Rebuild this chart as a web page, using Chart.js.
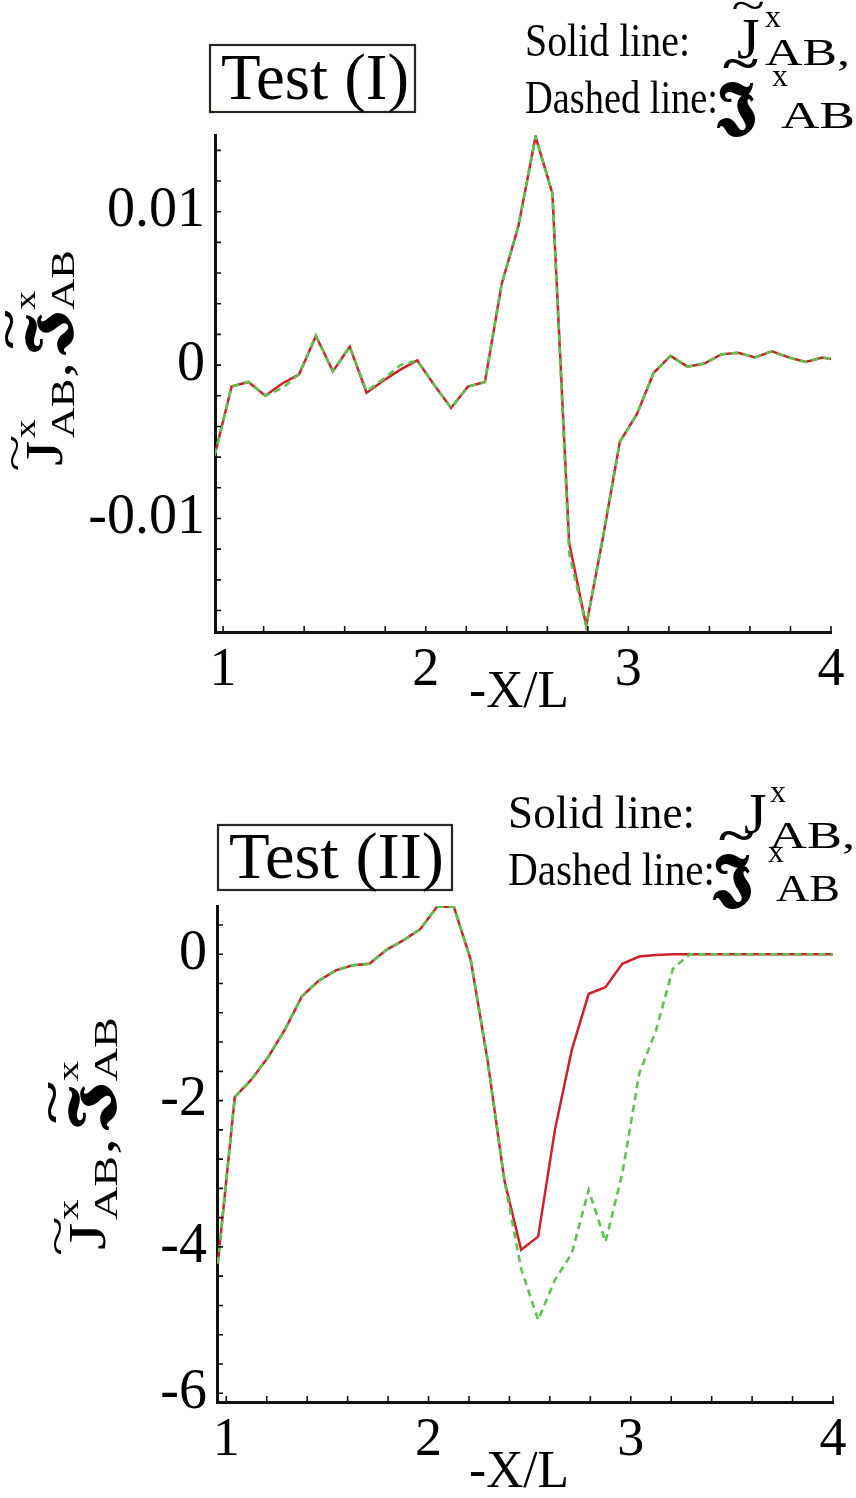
<!DOCTYPE html>
<html lang="en">
<head>
<meta charset="UTF-8">
<title>Test (I) / Test (II)</title>
<script src="https://cdn.jsdelivr.net/npm/chart.js@4.4.1/dist/chart.umd.min.js"></script>
<style>
  body { margin: 0; background: #fff; width: 856px; height: 1498px; overflow: hidden; }
  .panel { position: absolute; left: 0; width: 856px; height: 749px; }
</style>
</head>
<body>
<div class="panel" style="top:0"><canvas id="chartTop"></canvas></div>
<div class="panel" style="top:749px"><canvas id="chartBottom"></canvas></div>

<script>
// ---- data ----
const xPos = [0.958, 1.042, 1.125, 1.208, 1.292, 1.375, 1.458, 1.542, 1.625, 1.708,
              1.792, 1.875, 1.958, 2.042, 2.125, 2.208, 2.292, 2.375, 2.458, 2.542,
              2.625, 2.708, 2.792, 2.875, 2.958, 3.042, 3.125, 3.208, 3.292, 3.375,
              3.458, 3.542, 3.625, 3.708, 3.792, 3.875, 3.958, 4.042];

// Test (I)
const solidI  = [-0.0059, -0.0014, -0.0011, -0.0020, -0.0012, -0.0006, 0.0019, -0.0004, 0.0012, -0.0018,
                 -0.0010, -0.0003, 0.0003, -0.0013, -0.0028, -0.0014, -0.0011, 0.0053, 0.0091, 0.0149,
                  0.0112, -0.0116, -0.0170, -0.0112, -0.0050, -0.0032, -0.0005, 0.0006, -0.0001, 0.0001,
                  0.0007, 0.0008, 0.0005, 0.0009, 0.0005, 0.0002, 0.0005, 0.0003];
const dashedI = [-0.0059, -0.0014, -0.0011, -0.0020, -0.0015, -0.0006, 0.0019, -0.0004, 0.0012, -0.0017,
                 -0.0009, 0.0000, 0.0003, -0.0013, -0.0028, -0.0014, -0.0011, 0.0053, 0.0091, 0.0149,
                  0.0112, -0.0123, -0.0170, -0.0112, -0.0050, -0.0032, -0.0005, 0.0006, -0.0001, 0.0001,
                  0.0007, 0.0008, 0.0005, 0.0009, 0.0005, 0.0002, 0.0005, 0.0003];

// Test (II)
const solidII  = [-4.23, -1.95, -1.71, -1.40, -1.02, -0.57, -0.36, -0.22, -0.15, -0.13,
                   0.06, 0.19, 0.34, 0.65, 0.65, -0.07, -1.45, -3.09, -4.04, -3.86,
                  -2.40, -1.31, -0.54, -0.45, -0.13, -0.03, -0.01, 0, 0, 0,
                   0, 0, 0, 0, 0, 0, 0, 0];
const dashedII = [-4.23, -1.95, -1.71, -1.40, -1.02, -0.57, -0.36, -0.22, -0.15, -0.13,
                   0.06, 0.19, 0.34, 0.65, 0.65, -0.07, -1.45, -3.09, -4.30, -5.00,
                  -4.45, -4.09, -3.22, -3.93, -3.00, -1.63, -1.04, -0.20, 0, 0,
                   0, 0, 0, 0, 0, 0, 0, 0];

// ticks
const xTickLabels = [1, 2, 3, 4];
const xMinorTicks = [1, 1.2, 1.4, 1.6, 1.8, 2, 2.2, 2.4, 2.6, 2.8, 3, 3.2, 3.4, 3.6, 3.8, 4];
const yTickLabelsI = [-0.01, 0, 0.01];
const yMinorTicksI = [-0.016, -0.014, -0.012, -0.010, -0.008, -0.006, -0.004, -0.002, 0,
                      0.002, 0.004, 0.006, 0.008, 0.010, 0.012, 0.014];
const yTickLabelsII = [-6, -4, -2, 0];
const yMinorTicksII = [-6, -5.6, -5.2, -4.8, -4.4, -4, -3.6, -3.2, -2.8, -2.4, -2, -1.6, -1.2,
                       -0.8, -0.4, 0, 0.4];

const SERIF = '"Liberation Serif", "DejaVu Serif", serif';
const FRAK = '"DejaVu Serif", "DejaVu Sans", "Noto Sans", serif';
const RED = '#cc2229';
const GREEN = '#5ec24e';

function pts(xs, ys) {
    return ys.map((v, i) => ({ x: xs[i], y: v }));
}

// draw one text item: {t, x, y, size, bold, frak, tilde, w}
function drawItem(ctx, it) {
    ctx.save();
    ctx.font = (it.bold ? 'bold ' : '') + it.size + 'px ' + (it.frak ? FRAK : SERIF);
    ctx.fillStyle = '#000';
    ctx.textBaseline = 'alphabetic';
    const mw = ctx.measureText(it.t).width;
    ctx.translate(it.x, it.y);
    if (it.w) ctx.scale(it.w / mw, 1);
    ctx.fillText(it.t, 0, 0);
    if (it.tilde) {
        ctx.font = (it.bold ? 'bold ' : '') + Math.round(it.size * 0.75) + 'px ' + SERIF;
        const tw = ctx.measureText('~').width;
        ctx.save();
        ctx.translate(mw * (it.bold ? 0.6 : 0.5), -it.size * (it.bold ? 0.74 : 0.66));
        ctx.scale(1.4, 1);
        ctx.fillText('~', -tw / 2, 0);
        ctx.restore();
    }
    ctx.restore();
}

const decor = {
    id: 'decor',
    afterDraw(chart, args, o) {
        const ctx = chart.ctx, a = chart.chartArea;
        const xs = chart.scales.x, ys = chart.scales.y;
        ctx.save();
        // inward tick marks
        ctx.strokeStyle = '#111';
        ctx.lineWidth = 1.6;
        ctx.beginPath();
        o.xMinor.forEach(v => {
            const px = xs.getPixelForValue(v);
            ctx.moveTo(px, a.bottom); ctx.lineTo(px, a.bottom - 6);
        });
        o.yMinor.forEach(v => {
            const py = ys.getPixelForValue(v);
            ctx.moveTo(a.left, py); ctx.lineTo(a.left + 6, py);
        });
        ctx.stroke();

        // framed title
        ctx.strokeStyle = '#2b2622';
        ctx.lineWidth = 2.2;
        ctx.strokeRect(o.box[0], o.box[1], o.box[2], o.box[3]);
        o.texts.forEach(it => drawItem(ctx, it));

        // rotated axis title
        const r = o.yTitle;
        ctx.save();
        ctx.translate(r.x, r.y);
        ctx.rotate(-Math.PI / 2);
        ctx.scale(r.stretch, 1);
        r.parts.forEach(it => drawItem(ctx, it));
        ctx.restore();

        // x title
        drawItem(ctx, o.xTitle);
        ctx.restore();
    }
};

function yTitleParts() {
    return [
        { t: 'J', x: 0, y: 0, size: 52, tilde: true },
        { t: 'x', x: 22, y: -27, size: 30 },
        { t: 'AB', x: 22, y: 12, size: 34 },
        { t: ',', x: 70, y: 8, size: 50 },
        { t: '\u{1D575}', x: 88, y: 2, size: 56, bold: true, frak: true, tilde: true },
        { t: 'x', x: 124, y: -27, size: 30 },
        { t: 'AB', x: 124, y: 12, size: 34 }
    ];
}

function makeChart(id, cfg) {
    return new Chart(document.getElementById(id), {
        type: 'line',
        data: {
            datasets: [
                { data: pts(xPos, cfg.dashed), borderColor: GREEN, borderWidth: 2.6,
                  borderDash: [7, 5], pointRadius: 0, tension: 0, order: 0 },
                { data: pts(xPos, cfg.solid), borderColor: RED, borderWidth: 2.5,
                  pointRadius: 0, tension: 0, order: 1 }
            ]
        },
        options: {
            responsive: true,
            maintainAspectRatio: false,
            animation: false,
            layout: { padding: { top: cfg.top, right: cfg.right, left: 0, bottom: 0 } },
            plugins: {
                legend: { display: false },
                tooltip: { enabled: false },
                decor: cfg.decor
            },
            scales: {
                x: {
                    type: 'linear',
                    min: cfg.xmin, max: 4,
                    border: { display: true, color: '#111', width: 3 },
                    grid: { display: false, drawTicks: false },
                    ticks: { color: '#000', padding: 6, maxRotation: 0, autoSkip: false,
                             font: { family: SERIF, size: 54 } },
                    afterBuildTicks: s => { s.ticks = xTickLabels.map(v => ({ value: v })); },
                    afterFit: s => { s.height = cfg.xh; }
                },
                y: {
                    min: cfg.ymin, max: cfg.ymax,
                    border: { display: true, color: '#111', width: 3 },
                    grid: { display: false, drawTicks: false },
                    ticks: { color: '#000', padding: 10, autoSkip: false,
                             font: { family: SERIF, size: 56 },
                             callback: v => String(v) },
                    afterBuildTicks: s => { s.ticks = cfg.yLabels.map(v => ({ value: v })); },
                    afterFit: s => { s.width = cfg.yw; }
                }
            }
        },
        plugins: [decor]
    });
}

makeChart('chartTop', {
    solid: solidI, dashed: dashedI,
    xmin: 0.96, ymin: -0.0174, ymax: 0.0150,
    top: 135, right: 25, xh: 117, yw: 215,
    yLabels: yTickLabelsI,
    decor: {
        xMinor: xMinorTicks, yMinor: yMinorTicksI,
        box: [210, 45, 205, 67],
        texts: [
            { t: 'Test (I)', x: 221, y: 99, size: 66, w: 188 },
            { t: 'Solid line:', x: 525, y: 56, size: 46, w: 165 },
            { t: 'J', x: 737, y: 58, size: 58, tilde: true },
            { t: 'x', x: 765, y: 27, size: 32 },
            { t: 'AB,', x: 765, y: 65, size: 38, w: 85 },
            { t: 'Dashed line:', x: 525, y: 113, size: 46, w: 193 },
            { t: '\u{1D575}', x: 717, y: 126, size: 64, bold: true, frak: true, tilde: true },
            { t: 'x', x: 772, y: 86, size: 32 },
            { t: 'AB', x: 781, y: 128, size: 38, w: 74 }
        ],
        yTitle: { x: 62, y: 466, stretch: 1.26, parts: yTitleParts() },
        xTitle: { t: '-X/L', x: 469, y: 707, size: 52, w: 100 }
    }
});

makeChart('chartBottom', {
    solid: solidII, dashed: dashedII,
    xmin: 0.954, ymin: -6.12, ymax: 0.66,
    top: 157, right: 23, xh: 96, yw: 217,
    yLabels: yTickLabelsII,
    decor: {
        xMinor: xMinorTicks, yMinor: yMinorTicksII,
        box: [218, 76, 234, 65],
        texts: [
            { t: 'Test (II)', x: 229, y: 129, size: 66, w: 215 },
            { t: 'Solid line:', x: 508, y: 79, size: 46, w: 187 },
            { t: 'J', x: 744, y: 84, size: 58 },
            { t: 'x', x: 770, y: 53, size: 32 },
            { t: 'AB,', x: 769, y: 99, size: 38, w: 86 },
            { t: 'Dashed line:', x: 508, y: 136, size: 46, w: 207 },
            { t: '\u{1D575}', x: 713, y: 149, size: 64, bold: true, frak: true, tilde: true },
            { t: 'x', x: 768, y: 113, size: 32 },
            { t: 'AB', x: 776, y: 152, size: 38, w: 64 }
        ],
        yTitle: { x: 105, y: 501, stretch: 1.36, parts: yTitleParts() },
        xTitle: { t: '-X/L', x: 469, y: 738, size: 52, w: 100 }
    }
});
</script>
</body>
</html>
